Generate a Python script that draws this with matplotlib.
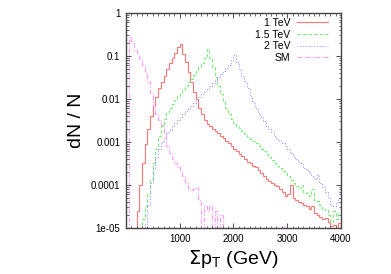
import numpy as np
import matplotlib
matplotlib.use("Agg")
import matplotlib.pyplot as plt
from matplotlib.ticker import FixedLocator, MultipleLocator, LogLocator, NullFormatter

plt.rcParams["font.family"] = ["Liberation Sans", "DejaVu Sans"]

# histogram bins: 50 GeV wide, 0 .. 4000 GeV
bin_width = 50
n_bins = 80

# dN/N per bin (0 = empty bin)
tev1 = [0, 0, 0, 0, 2.5e-5, 1e-4, 3.2e-4, 9e-4, 2e-3, 4e-3,
        7e-3, 0.011, 0.018, 0.025, 0.035, 0.05, 0.068, 0.089, 0.117, 0.16,
        0.19, 0.112, 0.071, 0.043, 0.025, 0.0145, 0.01, 0.0063, 0.0045, 0.0033,
        0.0026, 0.0023, 0.002, 0.0018, 0.0016, 0.0014, 0.00126, 0.00107, 9.3e-4, 8e-4,
        6.9e-4, 6e-4, 5.2e-4, 4.7e-4, 4e-4, 3.5e-4, 3.2e-4, 2.8e-4, 2.6e-4, 2.2e-4,
        1.9e-4, 1.6e-4, 1.4e-4, 1.26e-4, 1.12e-4, 1e-4, 9.5e-5, 8e-5, 7e-5, 5.6e-5,
        6.3e-5, 1e-4, 5e-5, 4.5e-5, 4e-5, 3.8e-5, 3.5e-5, 3.2e-5, 2.8e-5, 3.2e-5,
        2.2e-5, 2e-5, 1.8e-5, 1.6e-5, 1.7e-5, 1.4e-5, 1.1e-5, 1.2e-5, 0, 1.3e-5]

tev15 = [0, 0, 0, 0, 0, 0, 1.6e-5, 3.2e-5, 6.3e-5, 1.4e-4,
         3.2e-4, 7e-4, 1.4e-3, 2.4e-3, 3.5e-3, 4.7e-3, 6e-3, 7.6e-3, 9.3e-3, 0.0115,
         0.014, 0.017, 0.0204, 0.0245, 0.0295, 0.036, 0.045, 0.055, 0.069, 0.089,
         0.145, 0.089, 0.056, 0.0316, 0.02, 0.013, 0.0089, 0.0063, 0.0045, 0.0035,
         0.0028, 0.0024, 0.0021, 0.0018, 0.0015, 0.0013, 0.00117, 0.00105, 9.5e-4, 8.3e-4,
         7e-4, 6e-4, 5.2e-4, 4.4e-4, 3.8e-4, 3.3e-4, 2.8e-4, 2.5e-4, 2.1e-4, 1.9e-4,
         1.6e-4, 1.3e-4, 1.1e-4, 9.5e-5, 8.3e-5, 1e-4, 7e-5, 6.6e-5, 5.6e-5, 8e-5,
         4.5e-5, 4.2e-5, 3.5e-5, 2.6e-5, 2.8e-5, 2e-5, 1.4e-5, 2.5e-5, 1.6e-5, 2.2e-5]

tev2 = [0, 0, 0, 0, 0, 0, 0, 1.26e-5, 3.5e-5, 1.1e-4,
        2.5e-4, 4.5e-4, 7e-4, 1e-3, 1.26e-3, 1.6e-3, 1.9e-3, 2.3e-3, 2.75e-3, 3.2e-3,
        3.8e-3, 4.5e-3, 5.2e-3, 6e-3, 7e-3, 8.1e-3, 9.3e-3, 0.011, 0.0129, 0.015,
        0.0174, 0.02, 0.0234, 0.0275, 0.0316, 0.037, 0.044, 0.051, 0.063, 0.079,
        0.105, 0.071, 0.05, 0.035, 0.025, 0.018, 0.0117, 0.0083, 0.0063, 0.0048,
        0.0038, 0.003, 0.0024, 0.002, 0.00166, 0.0014, 0.0012, 0.00107, 9.5e-4, 8e-4,
        6.8e-4, 5.6e-4, 4.7e-4, 4e-4, 3.5e-4, 3e-4, 2.5e-4, 2.2e-4, 1.9e-4, 1.6e-4,
        1.4e-4, 1.66e-4, 1.1e-4, 8.9e-5, 7e-5, 5e-5, 3.5e-5, 3.2e-5, 4e-5, 5e-5]

sm = [0, 0.28, 0.2, 0.14, 0.11, 0.085, 0.06, 0.04, 0.025, 0.014,
      0.007, 0.0045, 0.0033, 0.0025, 0.0016, 8e-4, 5.6e-4, 4e-4, 3.3e-4, 2.6e-4,
      2.2e-4, 1.6e-4, 1.1e-4, 8e-5, 7.6e-5, 8e-5, 9e-5, 4.5e-5, 0, 3.2e-5,
      2.5e-5, 3.5e-5, 0, 2.5e-5, 0, 2e-5, 0, 0, 0, 0,
      0, 0, 0, 0, 0, 0, 0, 0, 0, 0,
      0, 0, 0, 0, 0, 0, 0, 0, 1.1e-5, 0,
      0, 0, 0, 0, 0, 0, 0, 0, 0, 0,
      0, 0, 0, 0, 0, 0, 0, 0, 0, 0]

labels = ["1 TeV", "1.5 TeV", "2 TeV", "SM"]
colors = ["#ff7777", "#77ee77", "#9999ff", "#ff99ff"]
styles = ["-", (0, (3, 2)), (0, (1, 1.5)), (0, (4, 1.5, 1, 1.5))]

y_ticks = [1, 0.1, 0.01, 0.001, 0.0001, 1e-5]
y_tick_labels = ["1", "0.1", "0.01", "0.001", "0.0001", "1e-05"]
x_ticks = [1000, 2000, 3000, 4000]

edges = np.arange(n_bins + 1) * bin_width

fig = plt.figure(figsize=(3.91, 2.74), dpi=100)
ax = fig.add_axes([0.322, 0.168, 0.550, 0.785])

for vals, lab, col, ls in zip([tev1, tev15, tev2, sm], labels, colors, styles):
    v = np.asarray(vals, dtype=float)
    v = np.where(v > 0, v, 1e-9)  # empty bins drop to the floor
    ax.stairs(v, edges, baseline=None, color=col, linestyle=ls,
              linewidth=0.8, label=lab)

ax.set_yscale("log")
ax.set_xlim(0, 4000)
ax.set_ylim(1e-5, 1)

ax.yaxis.set_major_locator(FixedLocator(y_ticks))
ax.set_yticklabels(y_tick_labels)
ax.yaxis.set_minor_locator(LogLocator(base=10, subs=np.arange(2, 10), numticks=20))
ax.yaxis.set_minor_formatter(NullFormatter())
ax.xaxis.set_major_locator(FixedLocator(x_ticks))
ax.xaxis.set_minor_locator(MultipleLocator(100))

ax.tick_params(which="both", direction="in", top=True, right=True,
               labelsize=7, color="#333333")
ax.tick_params(which="major", length=3.5, width=0.6, pad=4)
ax.tick_params(which="minor", length=1.8, width=0.5)
for sp in ax.spines.values():
    sp.set_linewidth(1.0)
    sp.set_color("#444444")

ax.set_ylabel("dN / N", fontsize=14)
ax.yaxis.set_label_coords(-0.19, 0.5)
ax.set_xlabel(r"$\Sigma$p$_\mathregular{T}$ (GeV)", fontsize=14, labelpad=3)

leg = ax.legend(loc="upper right", bbox_to_anchor=(0.958, 0.995), borderaxespad=0,
                frameon=False, fontsize=7.5, markerfirst=False,
                handlelength=3.0, handletextpad=0.6, labelspacing=0.15)

fig.savefig("out.png", dpi=100)
